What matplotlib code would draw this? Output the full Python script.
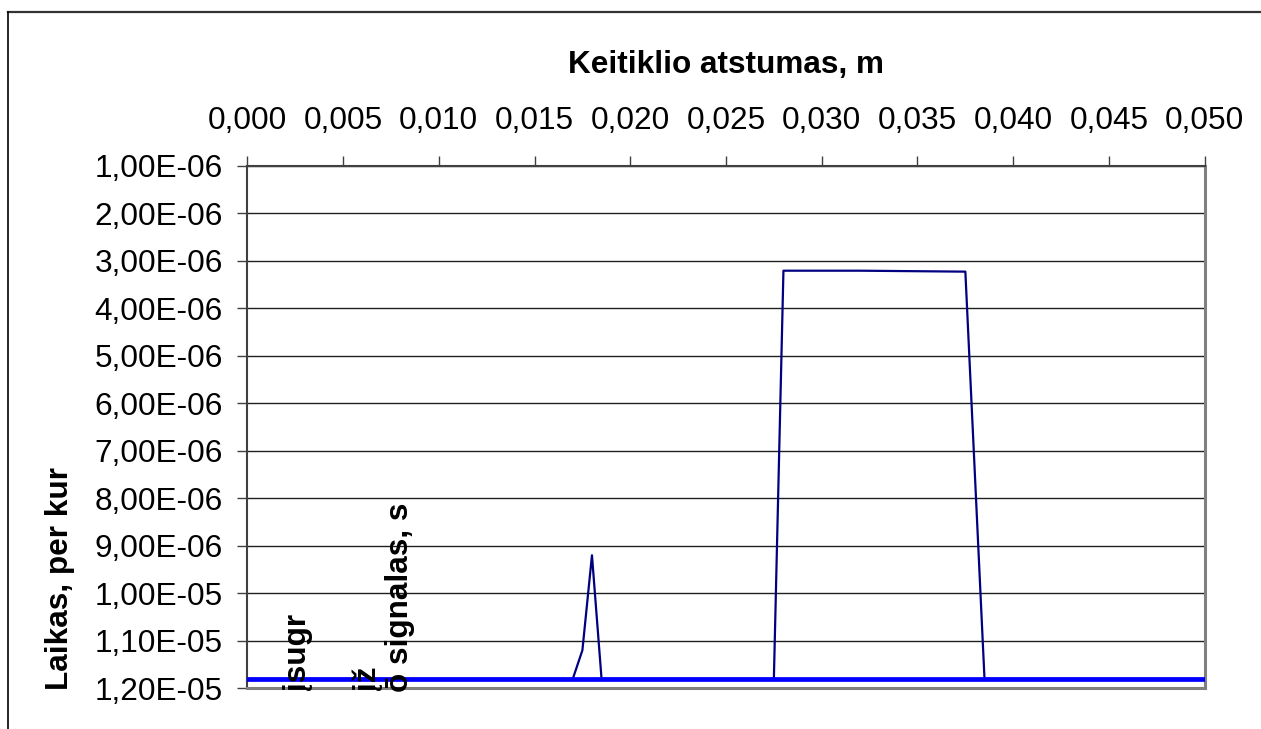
import matplotlib
matplotlib.use("Agg")
import matplotlib.pyplot as plt
from matplotlib.lines import Line2D
from matplotlib.ticker import FixedLocator, FuncFormatter

plt.rcParams['font.family'] = ['Liberation Sans', 'DejaVu Sans']

# atstumas (m) ir laikas (s)
dist = [0.000, 0.005, 0.010, 0.016, 0.017, 0.0175, 0.018, 0.0185,
        0.0275, 0.028, 0.032, 0.0375, 0.0385, 0.045, 0.050]
laikas = [1.18e-5, 1.18e-5, 1.18e-5, 1.18e-5, 1.18e-5, 1.12e-5, 9.2e-6, 1.18e-5,
          1.18e-5, 3.21e-6, 3.21e-6, 3.23e-6, 1.18e-5, 1.18e-5, 1.18e-5]

# slenkstis
slenk_x = [0.000, 0.050]
slenk_y = [1.18e-5, 1.18e-5]

x_ticks = [0.000, 0.005, 0.010, 0.015, 0.020, 0.025, 0.030, 0.035, 0.040, 0.045, 0.050]
y_ticks = [1e-6, 2e-6, 3e-6, 4e-6, 5e-6, 6e-6, 7e-6, 8e-6, 9e-6, 1e-5, 1.1e-5, 1.2e-5]

W, H = 1261, 729
fs = 22.7

fig = plt.figure(figsize=(W / 100, H / 100), dpi=100)
ax = fig.add_axes([247.3 / W, 1 - 688.3 / H, (1204.7 - 247.3) / W, (688.3 - 165.7) / H])

ax.plot(dist, laikas, color='#000080', lw=1.6, zorder=3)
ax.plot(slenk_x, slenk_y, color='#0000ff', lw=3.4, zorder=4)

ax.set_xlim(0, 0.05)
ax.set_ylim(1.2e-5, 1e-6)

ax.xaxis.tick_top()
ax.xaxis.set_major_locator(FixedLocator(x_ticks))
ax.xaxis.set_major_formatter(FuncFormatter(lambda v, p: f"{v:.3f}".replace('.', ',')))
ax.yaxis.set_major_locator(FixedLocator(y_ticks))
ax.yaxis.set_major_formatter(FuncFormatter(lambda v, p: f"{v:.2E}".replace('.', ',')))
ax.tick_params(axis='x', direction='out', length=7.5, width=1, color='#404040',
               labelsize=fs, pad=14)
ax.tick_params(axis='y', direction='out', length=7.5, width=1, color='#404040',
               labelsize=fs, pad=10)

ax.grid(axis='y', color='#202020', lw=1.0)
ax.set_axisbelow(True)

for s in ['left', 'top']:
    ax.spines[s].set_color('#404040')
    ax.spines[s].set_linewidth(1.5)
for s in ['right', 'bottom']:
    ax.spines[s].set_color('#808080')
    ax.spines[s].set_linewidth(2.2)

fig.text(726 / W, 1 - 65 / H, 'Keitiklio atstumas, m', fontsize=fs, fontweight='bold',
         ha='center', va='center')

# sugadinta y ašies antraštė, kaip originale
for txt, bx, by in [('Laikas, per kur', 68, 690), ('įsugr', 305, 690),
                    ('įž', 375, 690), ('ō signalas, s', 408, 692)]:
    fig.text(bx / W, 1 - by / H, txt, fontsize=fs, fontweight='bold', rotation=90,
             rotation_mode='anchor', ha='left', va='baseline')

# rėmelis
fig.add_artist(Line2D([8 / W, 1], [1 - 12 / H, 1 - 12 / H], color='#333333', lw=1.6))
fig.add_artist(Line2D([8 / W, 8 / W], [0, 1 - 12 / H], color='black', lw=1.2))

fig.savefig('out.png', dpi=100)
